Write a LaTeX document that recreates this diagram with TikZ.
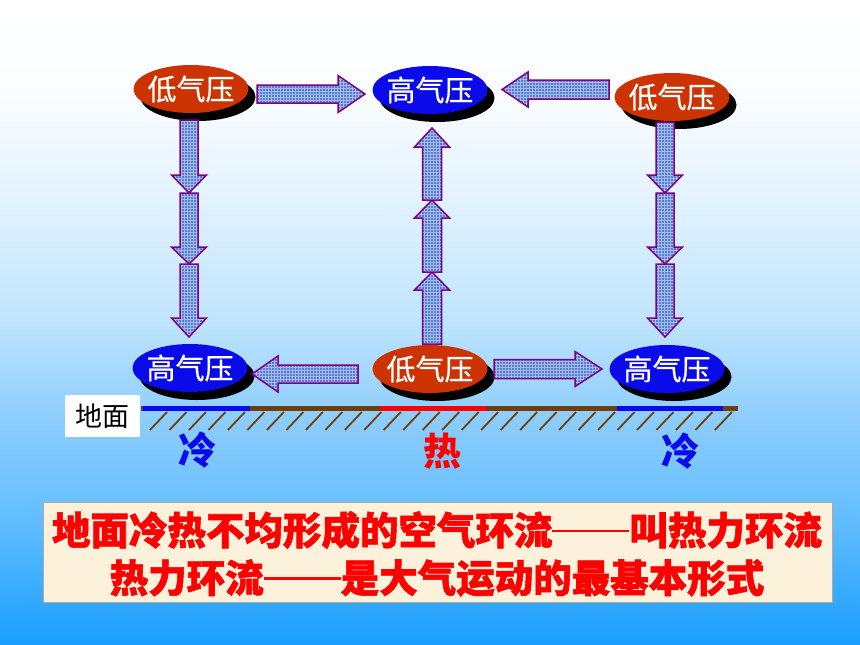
\documentclass[tikz,border=0pt]{standalone}
\usepackage{fontspec}
\newfontfamily\cjk{Noto Sans CJK SC}
\newfontfamily\cjkheavy{Noto Sans CJK SC}[BoldFeatures={FakeBold=1.5}]
\newfontfamily\cjkmid{Noto Sans CJK SC}[UprightFeatures={FakeBold=0.6}]
\usetikzlibrary{shapes.geometric,patterns.meta}
\definecolor{bgA}{RGB}{25,158,255}
\definecolor{bgB}{RGB}{100,190,255}
\definecolor{bgC}{RGB}{140,205,252}
\definecolor{bgD}{RGB}{190,228,253}
\definecolor{bgE}{RGB}{228,243,255}
\definecolor{bgF}{RGB}{250,253,255}
\definecolor{lowred}{RGB}{204,51,0}
\definecolor{highblue}{RGB}{10,10,235}
\definecolor{arrline}{RGB}{128,0,128}
\definecolor{arrfill}{RGB}{170,190,222}
\definecolor{arrdot}{RGB}{50,100,225}
\definecolor{ground}{RGB}{110,62,12}
\definecolor{cream}{RGB}{252,242,220}
\pgfdeclareverticalshading{bgshade}{100bp}{color(0bp)=(bgA); color(25bp)=(bgA); color(35bp)=(bgB); color(42.5bp)=(bgC); color(50bp)=(bgD); color(60bp)=(bgE); color(67.5bp)=(bgF); color(75bp)=(white); color(100bp)=(white)}
\tikzset{
  pres/.style={ellipse, minimum width=115pt, minimum height=48pt, inner sep=0pt},
  lowp/.style={pres, fill=lowred},
  highp/.style={pres, fill=highblue},
  shadowell/.style={fill=black},
  ptext/.style={text=white, font=\cjkmid\fontsize{29}{29}\selectfont, inner sep=0pt},
  arrbody/.style={fill=arrfill},
  arrdots/.style={pattern={Dots[distance=3pt, radius=1.05pt]}, pattern color=arrdot},
  arredge/.style={draw=arrline, line width=1.5pt, line join=miter},
  hatch/.style={draw=ground, line width=1.8pt},
  bigchar/.style={font=\cjk\bfseries\fontsize{38}{38}\selectfont, inner sep=0pt},
  redtext/.style={text=red, font=\cjkheavy\bfseries\fontsize{38.5}{38.5}\selectfont, inner sep=0pt},
}
% horizontal block arrow: tail x, head-base x, tip x, y, shaft half width, head half width
\newcommand{\harr}[6]{%
  \path[arrbody] (#1,#4-#5) -- (#2,#4-#5) -- (#2,#4-#6) -- (#3,#4) -- (#2,#4+#6) -- (#2,#4+#5) -- (#1,#4+#5) -- cycle;
  \path[arrdots] (#1,#4-#5) -- (#2,#4-#5) -- (#2,#4-#6) -- (#3,#4) -- (#2,#4+#6) -- (#2,#4+#5) -- (#1,#4+#5) -- cycle;
  \path[arredge] (#1,#4-#5) -- (#2,#4-#5) -- (#2,#4-#6) -- (#3,#4) -- (#2,#4+#6) -- (#2,#4+#5) -- (#1,#4+#5) -- cycle;}
% vertical block arrow: tail y, head-base y, tip y, x, shaft half width, head half width
\newcommand{\varr}[6]{%
  \path[arrbody] (#4-#5,#1) -- (#4-#5,#2) -- (#4-#6,#2) -- (#4,#3) -- (#4+#6,#2) -- (#4+#5,#2) -- (#4+#5,#1) -- cycle;
  \path[arrdots] (#4-#5,#1) -- (#4-#5,#2) -- (#4-#6,#2) -- (#4,#3) -- (#4+#6,#2) -- (#4+#5,#2) -- (#4+#5,#1) -- cycle;
  \path[arredge] (#4-#5,#1) -- (#4-#5,#2) -- (#4-#6,#2) -- (#4,#3) -- (#4+#6,#2) -- (#4+#5,#2) -- (#4+#5,#1) -- cycle;}
\begin{document}
\begin{tikzpicture}[x=1pt,y=-1pt]
\useasboundingbox (0,0) rectangle (860,645);
\shade[shading=bgshade] (0,0) rectangle (860,645);

% shadows
\fill[shadowell] (198,97) ellipse [x radius=57.5, y radius=24];
\fill[shadowell] (437,98) ellipse [x radius=57.5, y radius=24];
\fill[shadowell] (679,105) ellipse [x radius=57.5, y radius=24];
\fill[shadowell] (197,376) ellipse [x radius=57.5, y radius=24];
\fill[shadowell] (437,377) ellipse [x radius=57.5, y radius=24];
\fill[shadowell] (674,377) ellipse [x radius=57.5, y radius=24];

% pressure cells
\node[lowp] (tl) at (191,89) {};
\node[highp] (tm) at (430,90) {};
\node[lowp] (tr) at (672,97) {};
\node[highp] (bl) at (190,368) {};
\node[lowp] (bm) at (430,369) {};
\node[highp] (br) at (667,369) {};
\node[ptext] at (tl) {低气压};
\node[ptext] at (tm) {高气压};
\node[ptext] at (tr) {低气压};
\node[ptext] at (bl) {高气压};
\node[ptext] at (bm) {低气压};
\node[ptext] at (br) {高气压};

% horizontal arrows
\harr{257}{338}{365}{94}{9}{18.5}
\harr{609}{528}{502}{89.5}{9.5}{17.5}
\harr{358}{278}{252}{374}{9}{18}
\harr{494}{575}{602}{369}{9.5}{17.5}

% left column (down)
\varr{120}{175}{193}{189}{9}{17.5}
\varr{193}{247}{264}{189}{9}{17.5}
\varr{264}{318}{337}{189}{9}{17.5}
% right column (down)
\varr{122}{175}{193}{665}{9}{17.5}
\varr{193}{247}{264}{665}{9}{17.5}
\varr{264}{318}{337}{665}{9}{17.5}
% middle column (up)
\varr{344}{290}{272}{432}{9.5}{17.5}
\varr{272}{218}{200}{432}{9.5}{17.5}
\varr{200}{147}{128}{432}{9.5}{17.5}

% ground
\draw[ground, line width=5pt] (141,408.5) -- (738,408.5);
\draw[highblue, line width=5pt] (143,408.5) -- (250,408.5);
\draw[red, line width=5pt] (380,408.5) -- (487,408.5);
\draw[highblue, line width=5pt] (617,408.5) -- (723,408.5);
\foreach \i in {0,...,29} {
  \draw[hatch] ({150+\i*19.48},430) -- ({167+\i*19.48},412);
}
\node[fill=white, minimum width=75pt, minimum height=42pt, inner sep=0pt,
      font=\cjk\fontsize{27}{27}\selectfont] (dm) at (102.5,416) {地面};

\node[bigchar, text=highblue] (c1) at (197,450) {冷};
\node[bigchar, text=red] (h1) at (442,451) {热};
\node[bigchar, text=highblue] (c2) at (680,451) {冷};

% summary box
\node[fill=cream, draw={rgb,255:red,180;green,170;blue,150}, line width=0.6pt,
      minimum width=789pt, minimum height=100pt, inner sep=0pt] (sum) at (437.5,552) {};
\node[redtext] (l1) at (437,530) {地面冷热不均形成的空气环流\rule[0.32em]{2em}{0.07em}叫热力环流};
\node[redtext] (l2) at (437,578) {热力环流\rule[0.32em]{2em}{0.07em}是大气运动的最基本形式};
\end{tikzpicture}
\end{document}
